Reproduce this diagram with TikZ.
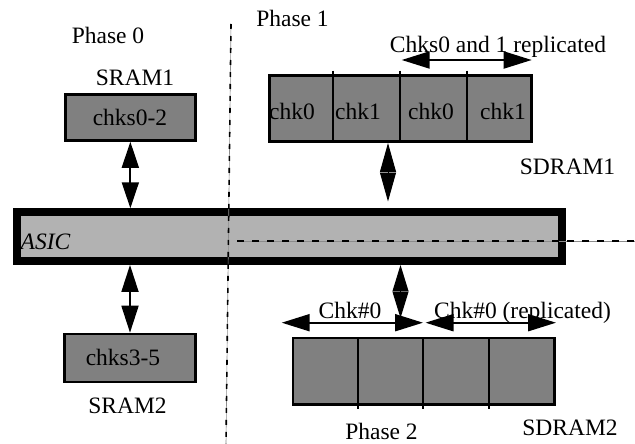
\documentclass[tikz,border=0pt]{standalone}
\usepackage{fontspec}
\setmainfont{Liberation Serif}
\usetikzlibrary{arrows.meta}
\begin{document}
\begin{tikzpicture}[x=1pt,y=-1pt,
  lbl/.style={inner sep=0pt,anchor=base,font=\fontsize{23.5}{28}\selectfont},
  mem/.style={draw=black,fill=black!50,line width=2.6pt,inner sep=0pt},
  divider/.style={line width=2pt},
  bigarrow/.style={line width=2pt,{Triangle[length=28pt,width=17pt]}-{Triangle[length=28pt,width=17pt]}},
  diamond arrow/.style={line width=1pt,{Triangle[length=#1,width=16pt]}-{Triangle[length=#1,width=16pt]}},
  phaseline/.style={line width=1.6pt,dash pattern=on 6pt off 6pt},
  guide/.style={line width=0.6pt,black!45}]
\useasboundingbox (0,0) rectangle (635,444);
\fill[white] (0,0) rectangle (635,444);

% ASIC
\node[draw=black,fill=black!30,line width=8pt,inner sep=0pt,minimum width=545.3pt,minimum height=48.7pt] (asic) at (289.3,236.6) {};
\node[lbl,font=\fontsize{23.5}{28}\selectfont\itshape,anchor=base west] (asiclbl) at (20.5,249.3) {ASIC};

% SRAM1
\node[mem,minimum width=130pt,minimum height=46pt] (sram1) at (130.35,117.5) {};
\node[lbl] (t02) at (130,125) {chks0-2};
\node[lbl] (sram1lbl) at (135,85) {SRAM1};

% SRAM2
\node[mem,minimum width=131pt,minimum height=48pt] (sram2) at (130,358) {};
\node[lbl] (t35) at (123,365) {chks3-5};
\node[lbl] (sram2lbl) at (127.5,413) {SRAM2};

% SDRAM1
\node[mem,minimum width=262pt,minimum height=66.4pt] (sdram1) at (400.3,108.5) {};
\coordinate (a1) at (333,70.7);
\coordinate (a2) at (400,70.7);
\coordinate (a3) at (466.7,70.7);
\foreach \c in {a1,a2,a3} \draw[divider] (\c) -- (\c |- sdram1.south);
\node[lbl] (c1) at (292,120) {chk0};
\node[lbl] (c2) at (358,120) {chk1};
\node[lbl] (c3) at (431,120) {chk0};
\node[lbl] (c4) at (503,120) {chk1};
\node[lbl] (sdram1lbl) at (567.5,174) {SDRAM1};
\node[lbl] (repl1) at (498,53) {Chks0 and 1 replicated};
\coordinate (r1a) at (401.7,60);
\coordinate (r1b) at (531.7,60);
\draw[bigarrow] (r1a) -- (r1b);

% SDRAM2
\node[mem,minimum width=261.7pt,minimum height=66.7pt] (sdram2) at (423.8,371.3) {};
\coordinate (b1) at (357.7,408.5);
\coordinate (b2) at (423.3,408.5);
\coordinate (b3) at (489.3,408.5);
\foreach \c in {b1,b2,b3} \draw[divider] (\c) -- (\c |- sdram2.north);
\node[lbl] (sdram2lbl) at (570,435) {SDRAM2};
\node[lbl] (chk0a) at (350,318) {Chk\#0};
\node[lbl] (chk0b) at (522.5,318) {Chk\#0 (replicated)};
\coordinate (l2a) at (281.7,322.7);
\coordinate (l2b) at (423,322.7);
\coordinate (l2c) at (425.5,322.7);
\coordinate (l2d) at (556,322.7);
\draw[bigarrow] (l2a) -- (l2b);
\draw[bigarrow] (l2c) -- (l2d);

% connectors to ASIC
\draw[line width=1.8pt,{Triangle[length=26pt,width=17pt]}-{Triangle[length=26pt,width=17pt]}]
  (sram1.south) -- (sram1.south |- asic.north);
\draw[line width=1.8pt,{Triangle[length=27pt,width=17pt]}-{Triangle[length=27pt,width=17pt]}]
  (sram2.north |- asic.south) -- (sram2.north);
\coordinate (d1) at (388,201.5);
\draw[diamond arrow=29pt] (d1 |- sdram1.south) -- (d1);
\coordinate (d2) at (400.5,318);
\draw[diamond arrow=26.5pt] (d2 |- asic.south) -- (d2);

% phase labels
\node[lbl] (p0) at (108,44) {Phase 0};
\node[lbl] (p1) at (292.5,27) {Phase 1};
\node[lbl] (p2) at (381.5,439.5) {Phase 2};

% phase separators
\coordinate (v1) at (231,24);
\coordinate (v2) at (226,444);
\coordinate (h1) at (237,241);
\coordinate (h2) at (635,241);
\draw[guide] (v1) -- (v2);
\draw[phaseline,dash pattern=on 5pt off 7pt] (v1) -- (v2);
\draw[guide] (h1) -- (h2);
\draw[phaseline,dash pattern=on 7pt off 8pt] (h1) -- (h2);
\end{tikzpicture}
\end{document}
